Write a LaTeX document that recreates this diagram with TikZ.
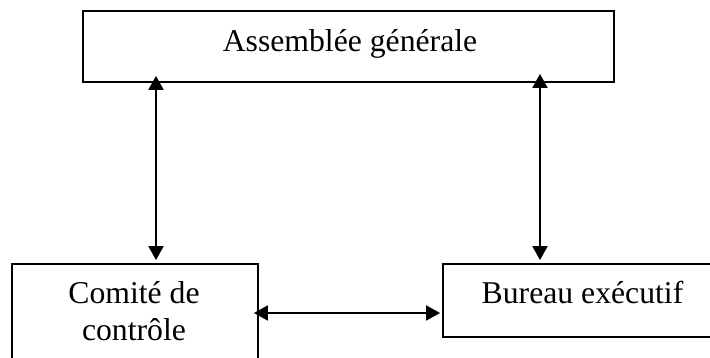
\documentclass[tikz,border=0pt]{standalone}
\usepackage{fontspec}
\setmainfont{Liberation Serif}
\usetikzlibrary{arrows.meta,calc}
\begin{document}
\begin{tikzpicture}[x=1pt,y=-1pt,
  box/.style={draw=black,line width=1.8pt,rectangle,inner sep=0pt},
  lbl/.style={anchor=base,inner sep=0pt,font=\fontsize{31.7pt}{36pt}\selectfont},
  biarrow/.style={line width=1.8pt,{Triangle[length=14pt,width=15pt]}-{Triangle[length=14pt,width=15pt]}}]
\clip (0,0) rectangle (710,358);
\fill[white] (0,0) rectangle (710,358);
% boxes
\node[box,minimum width=531pt,minimum height=71pt] (top) at (348.5,46.5) {};
\node[box,minimum width=246pt,minimum height=111pt] (cc) at (135,319.5) {};
\node[box,minimum width=282pt,minimum height=73pt] (be) at (584,300.5) {};
% texts
\node[lbl] (ttop) at (350,52) {Assemblée générale};
\node[lbl] (tcc1) at (134,304) {Comité de};
\node[lbl] (tcc2) at (134,340) {contrôle};
\node[lbl] (tbe) at (582.5,304) {Bureau exécutif};
% arrow positions
\coordinate (lx) at (156,0);
\coordinate (rx) at (540,0);
\coordinate (hy) at (0,313);
\draw[biarrow] ($(top.south -| lx)+(0,-7)$) -- ($(cc.north -| lx)+(0,-3)$);
\draw[biarrow] ($(top.south -| rx)+(0,-9)$) -- ($(be.north -| rx)+(0,-3)$);
\draw[biarrow] ($(cc.east |- hy)+(-5,0)$) -- ($(be.west |- hy)+(-2,0)$);
\end{tikzpicture}
\end{document}
